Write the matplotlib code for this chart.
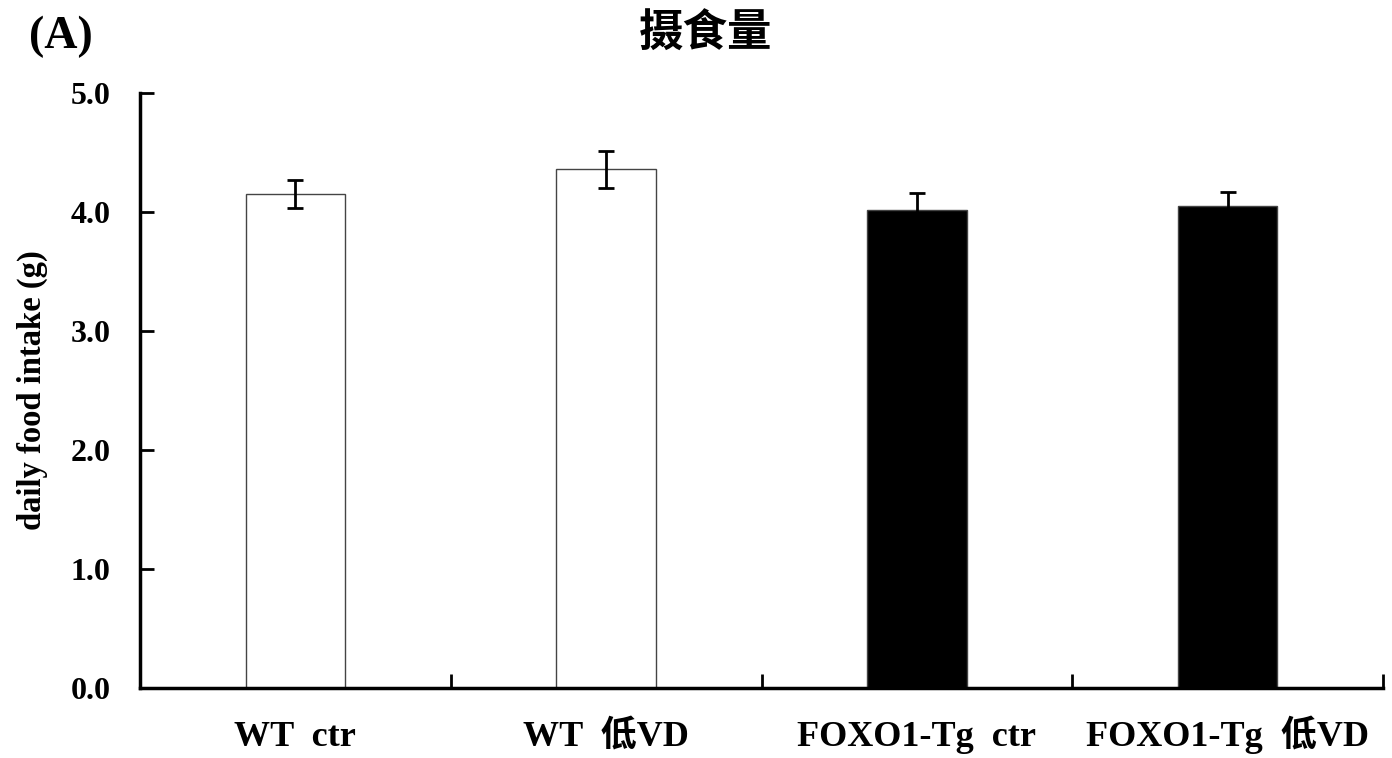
import numpy as np
import matplotlib
matplotlib.use('Agg')
from matplotlib import pyplot as plt

groups = ['WT  ctr', 'WT  低VD', 'FOXO1-Tg  ctr', 'FOXO1-Tg  低VD']
intake = [4.15, 4.36, 4.02, 4.05]
err = [0.12, 0.155, 0.14, 0.12]
colors = ['white', 'white', 'black', 'black']

plt.rcParams['font.family'] = ['Liberation Serif', 'Noto Sans CJK SC']
plt.rcParams['font.weight'] = 'bold'

fig = plt.figure(figsize=(13.92, 7.58), dpi=100)
ax = fig.add_axes([140/1392, 1-688/758, 1243/1392, 595/758])

x = np.arange(len(groups))
ax.bar(x, intake, width=0.32, color=colors, edgecolor='#444444', linewidth=1.0, zorder=2)
ax.errorbar(x, intake, yerr=err, fmt='none', ecolor='black', elinewidth=2,
            capsize=6, capthick=2, zorder=3)

ax.set_xlim(-0.5, 3.5)
ax.set_ylim(0, 5)
yt = np.arange(0, 5.01, 1.0)
ax.set_yticks(yt)
ax.set_yticklabels([f'{v:.1f}' for v in yt], fontsize=23, fontweight='bold')
ax.set_xticks([0.5, 1.5, 2.5, 3.5])
ax.set_xticklabels([])
ax.set_xticks(x, minor=True)
ax.set_xticklabels(groups, minor=True, fontsize=26, fontweight='bold')
for lab in ax.get_xticklabels(minor=True):
    lab.set_va('baseline')
ax.tick_params(axis='x', which='minor', length=0, pad=42)
ax.tick_params(axis='x', which='major', direction='in', length=10, width=2)
ax.tick_params(axis='y', direction='in', length=10, width=2, pad=21)

for s in ['top', 'right']:
    ax.spines[s].set_visible(False)
for s in ['left', 'bottom']:
    ax.spines[s].set_linewidth(2.5)

ax.set_ylabel('daily food intake (g)', fontsize=23.5, fontweight='bold')
ax.yaxis.set_label_coords(-0.074, 0.5)

fig.text(0.507, 0.955, '摄食量', ha='center', va='center', fontsize=32,
         fontweight='bold', family=['Noto Sans CJK SC', 'DejaVu Sans'])
fig.text(0.021, 0.951, '(A)', ha='left', va='center', fontsize=33, fontweight='bold')

fig.savefig('out.png', dpi=100)
